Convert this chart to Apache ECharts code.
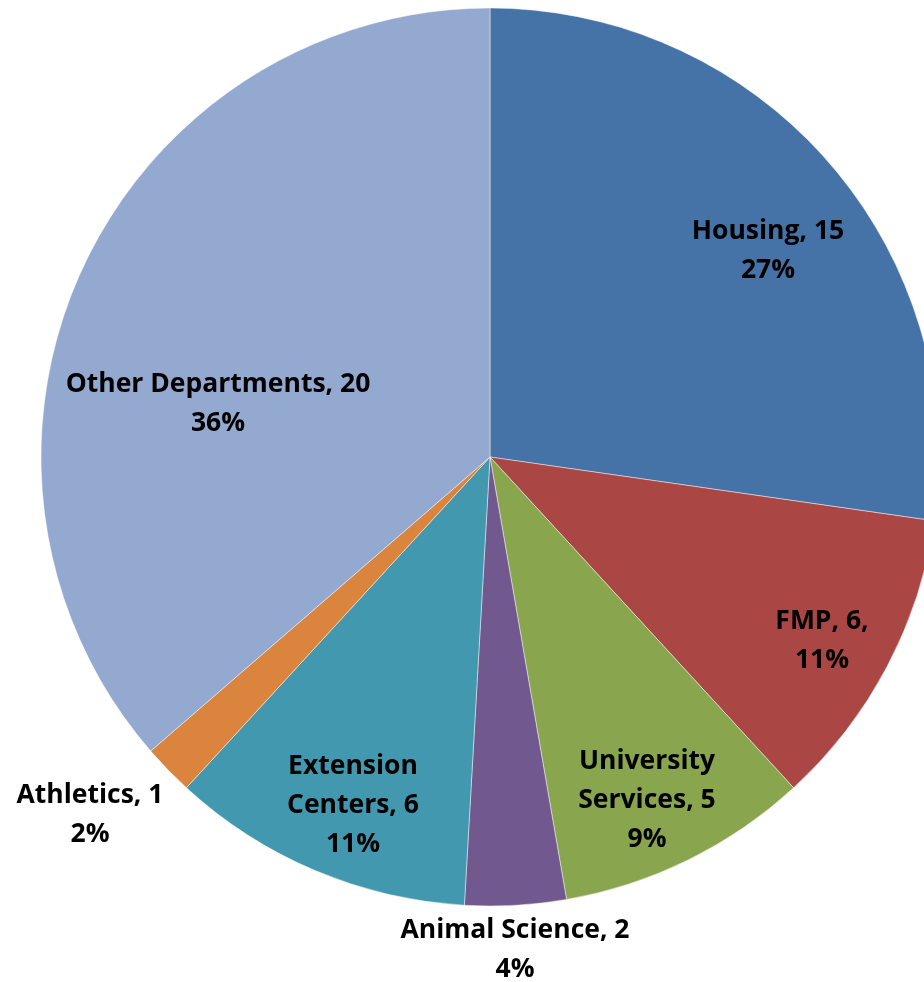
<!DOCTYPE html>
<html>
<head>
<meta charset="utf-8">
<script src="https://cdn.jsdelivr.net/npm/echarts@6/dist/echarts.min.js"></script>
<style>
  html, body { margin: 0; padding: 0; background: #fff; }
  #chart { width: 924px; height: 982px; }
</style>
</head>
<body>
<div id="chart"></div>
<script>
// 各部门数据
const names = ['Housing', 'FMP', 'University\nServices', 'Animal Science', 'Extension\nCenters', 'Athletics', 'Other Departments'];
const values = [15, 6, 5, 2, 6, 1, 20];
const colors = ['#4572A7', '#AA4643', '#89A54E', '#71588F', '#4198AF', '#DB843D', '#93A9CF'];

// 标签中心位置 (像素)
const labelPos = [
  [768, 251], [822, 641], [647, 800], [515, 950], [353, 805], [90, 815], [218, 404]
];

const myChart = echarts.init(document.getElementById('chart'));
myChart.setOption({
  animation: false,
  series: [{
    type: 'pie',
    center: [490, 457],
    radius: 449,
    startAngle: 90,
    clockwise: true,
    percentPrecision: 0,
    itemStyle: {
      borderColor: 'rgba(255,255,255,0.45)',
      borderWidth: 1
    },
    label: {
      show: true,
      position: 'inside',
      color: '#000',
      fontFamily: 'Open Sans',
      fontWeight: 'bold',
      fontSize: 26.5,
      lineHeight: 39,
      align: 'center',
      formatter: function (p) {
        return p.name + ', ' + p.value + (p.dataIndex === 1 ? ',' : '') + '\n' + p.percent + '%';
      }
    },
    labelLine: { show: false },
    labelLayout: function (p) {
      const pos = labelPos[p.dataIndex];
      return { x: pos[0], y: pos[1], align: 'center', verticalAlign: 'middle' };
    },
    emphasis: { disabled: true },
    data: values.map(function (v, i) {
      return { name: names[i], value: v, itemStyle: { color: colors[i] } };
    })
  }]
});
</script>
</body>
</html>
